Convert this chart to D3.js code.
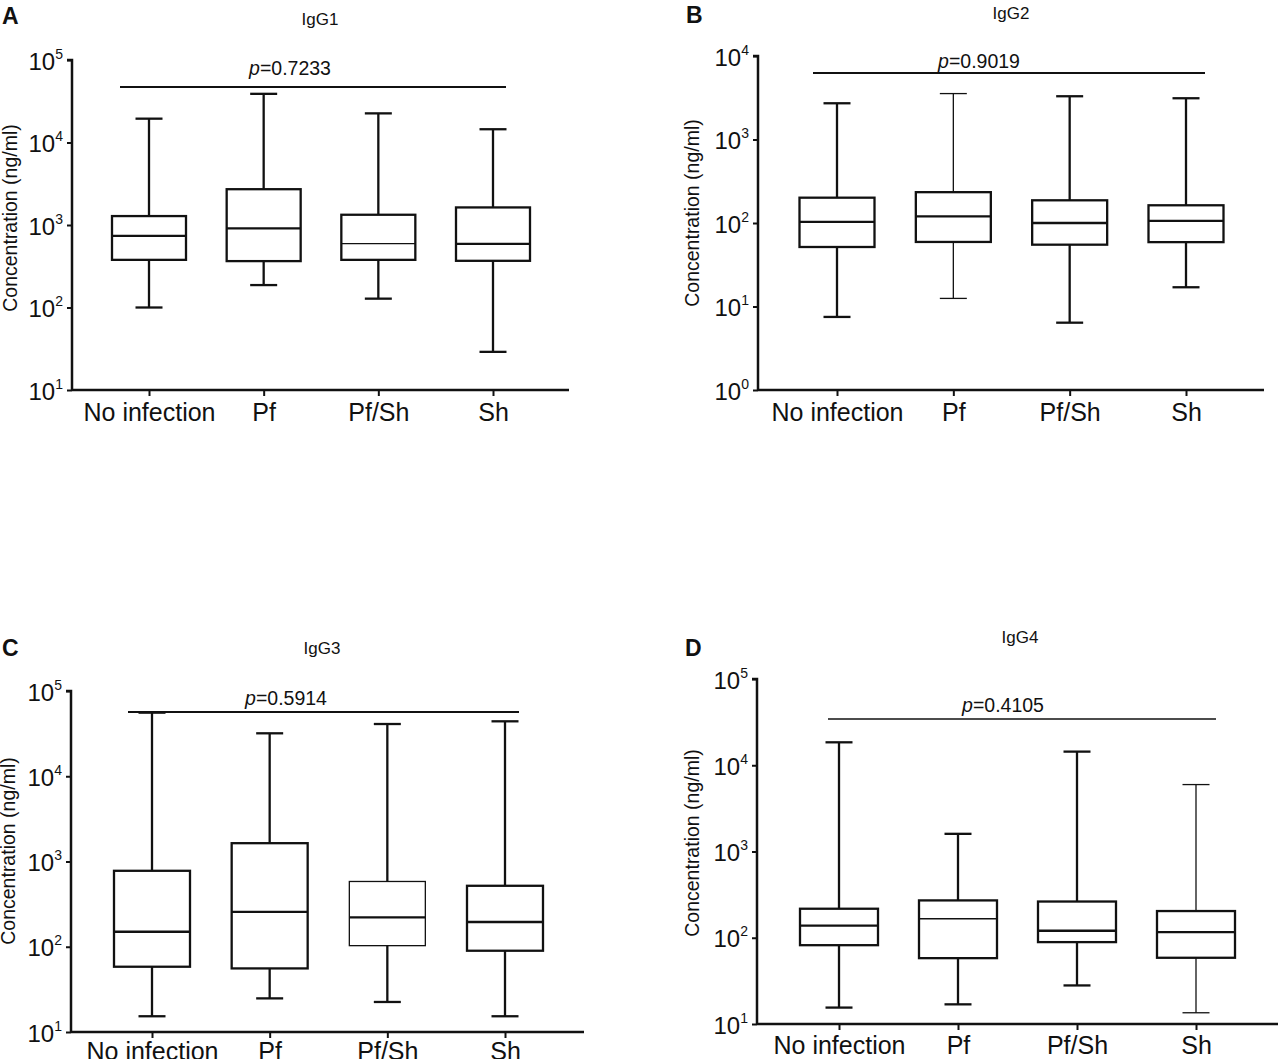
<!DOCTYPE html>
<html><head><meta charset="utf-8">
<script src="https://cdn.jsdelivr.net/npm/d3@7"></script>
<style>body{margin:0;background:#fff}svg{display:block}text{font-family:"Liberation Sans",Arial,sans-serif;fill:#111}</style>
</head><body>
<svg id="c" width="1278" height="1059"></svg>
<script>
// ---------------- data ----------------
const categories = ["No infection", "Pf", "Pf/Sh", "Sh"];
const panelLetters = ["A", "B", "C", "D"];
const panelTitles = ["IgG1", "IgG2", "IgG3", "IgG4"];
const pValues = ["0.7233", "0.9019", "0.5914", "0.4105"];
const yExponents = [[1,2,3,4,5],[0,1,2,3,4],[1,2,3,4,5],[1,2,3,4,5]];

const igg1Min = [100, 187, 128, 29];
const igg1Q1 = [378, 365, 378, 368];
const igg1Median = [737, 912, 596, 590];
const igg1Q3 = [1283, 2716, 1331, 1633];
const igg1Max = [19450, 38900, 22550, 14480];

const igg2Min = [7.5, 12.5, 6.4, 17];
const igg2Q1 = [51.6, 59.3, 55, 59];
const igg2Median = [103, 120, 100, 106];
const igg2Q3 = [201, 234, 187, 163];
const igg2Max = [2716, 3548, 3296, 3119];

const igg3Min = [15.3, 24.8, 22.5, 15.3];
const igg3Q1 = [58.3, 55.7, 103, 89.8];
const igg3Median = [150, 257, 221, 195];
const igg3Q3 = [778, 1640, 583, 519];
const igg3Max = [55700, 31900, 41000, 44100];

const igg4Min = [15.5, 16.9, 28, 13.5];
const igg4Q1 = [82, 58, 89, 58.6];
const igg4Median = [138, 166, 120.5, 116];
const igg4Q3 = [217, 271, 263, 204];
const igg4Max = [18450, 1603, 14390, 5970];

const seriesMin = [igg1Min, igg2Min, igg3Min, igg4Min];
const seriesQ1 = [igg1Q1, igg2Q1, igg3Q1, igg4Q1];
const seriesMed = [igg1Median, igg2Median, igg3Median, igg4Median];
const seriesQ3 = [igg1Q3, igg2Q3, igg3Q3, igg4Q3];
const seriesMax = [igg1Max, igg2Max, igg3Max, igg4Max];

// ---------------- layout & style ----------------
const layouts = [
  {ax:72, yTop:60, yBot:390, xEnd:569, c0:149, c1:493, pY:87, pX0:120, pX1:506, pTx:290, pTy:75, tX:320, tY:25, lX:2, lY:24, ylX:12, ylY:218, boxW:74, pW:2, xPad:6},
  {ax:758, yTop:56, yBot:390, xEnd:1264, c0:837, c1:1186, pY:73, pX0:813, pX1:1205, pTx:979, pTy:68, tX:1011, tY:19, lX:686, lY:23, ylX:694, ylY:213, boxW:75, pW:2, xPad:6},
  {ax:71, yTop:691, yBot:1032, xEnd:584, c0:152, c1:505, pY:712, pX0:128, pX1:519, pTx:286, pTy:705, tX:322, tY:654, lX:2, lY:656, ylX:10, ylY:851, boxW:76, pW:2, xPad:3},
  {ax:757, yTop:679, yBot:1024, xEnd:1278, c0:839, c1:1196, pY:719, pX0:828, pX1:1216, pTx:1003, pTy:712, tX:1020, tY:643, lX:685, lY:656, ylX:694, ylY:843, boxW:78, pW:1.5, xPad:5}
];
// thinner strokes seen in the reference for a few box parts: [panel, category index, part]
const thinParts = [[0,2,"median"],[1,1,"whisker"],[2,2,"box"],[3,1,"median"],[3,3,"whisker"]];
const capW = 27;
const thick = 2.3, thin = 1.3;

const svg = d3.select("#c");

layouts.forEach((L, i) => {
  const g = svg.append("g");
  const exps = yExponents[i];
  const y = d3.scaleLog()
    .domain([Math.pow(10, exps[0]), Math.pow(10, exps[exps.length-1])])
    .range([L.yBot, L.yTop]);
  const x = d3.scalePoint().domain(categories).range([L.c0, L.c1]);
  const sw = (k, part) => thinParts.some(t => t[0] === i && t[1] === k && t[2] === part) ? thin : thick;

  // y axis
  const yAxis = d3.axisLeft(y)
    .tickValues(exps.map(e => Math.pow(10, e)))
    .tickSize(5).tickFormat("");
  const ya = g.append("g").attr("transform", `translate(${L.ax},0)`).call(yAxis);
  ya.select(".domain").attr("stroke", "#111").attr("stroke-width", 2.5).attr("d", `M-5,${L.yTop}H0V${L.yBot}`);
  ya.selectAll(".tick line").attr("stroke", "#111").attr("stroke-width", 2);
  ya.selectAll(".tick").each(function(d, k) {
    const t = d3.select(this).append("text")
      .attr("x", -9).attr("y", 9)
      .attr("text-anchor", "end")
      .style("font-size", "24px");
    t.append("tspan").text("10");
    t.append("tspan").attr("dy", -11).style("font-size", "14px").text(String(exps[k]));
  });

  // x axis
  const xAxis = d3.axisBottom(x).tickSize(6).tickPadding(L.xPad).tickSizeOuter(0);
  const xa = g.append("g").attr("transform", `translate(0,${L.yBot})`).call(xAxis);
  xa.select(".domain").attr("stroke", "#111").attr("stroke-width", 2.5).attr("d", `M${L.ax},0H${L.xEnd}`);
  xa.selectAll(".tick line").attr("stroke", "#111").attr("stroke-width", 2);
  xa.selectAll(".tick text").style("font-size", "25px").attr("fill", "#111").attr("dy", "0.76em");

  // boxes
  const data = categories.map((c, k) => ({
    c, k, min: seriesMin[i][k], q1: seriesQ1[i][k], med: seriesMed[i][k], q3: seriesQ3[i][k], max: seriesMax[i][k]
  }));
  const b = g.selectAll(".bx").data(data).enter().append("g")
    .attr("fill", "none").attr("stroke", "#111");
  b.append("line").attr("x1", d => x(d.c)).attr("x2", d => x(d.c))
    .attr("y1", d => y(d.max)).attr("y2", d => y(d.q3)).attr("stroke-width", d => sw(d.k, "whisker"));
  b.append("line").attr("x1", d => x(d.c)).attr("x2", d => x(d.c))
    .attr("y1", d => y(d.q1)).attr("y2", d => y(d.min)).attr("stroke-width", d => sw(d.k, "whisker"));
  b.append("line").attr("x1", d => x(d.c) - capW/2).attr("x2", d => x(d.c) + capW/2)
    .attr("y1", d => y(d.max)).attr("y2", d => y(d.max)).attr("stroke-width", d => sw(d.k, "whisker"));
  b.append("line").attr("x1", d => x(d.c) - capW/2).attr("x2", d => x(d.c) + capW/2)
    .attr("y1", d => y(d.min)).attr("y2", d => y(d.min)).attr("stroke-width", d => sw(d.k, "whisker"));
  b.append("rect").attr("x", d => x(d.c) - L.boxW/2).attr("width", L.boxW)
    .attr("y", d => y(d.q3)).attr("height", d => y(d.q1) - y(d.q3)).attr("fill", "#fff")
    .attr("stroke-width", d => sw(d.k, "box"));
  b.append("line").attr("x1", d => x(d.c) - L.boxW/2).attr("x2", d => x(d.c) + L.boxW/2)
    .attr("y1", d => y(d.med)).attr("y2", d => y(d.med)).attr("stroke-width", d => sw(d.k, "median"));

  // p-value bar
  g.append("line").attr("x1", L.pX0).attr("x2", L.pX1).attr("y1", L.pY).attr("y2", L.pY)
    .attr("stroke", "#111").attr("stroke-width", L.pW);
  const pt = g.append("text").attr("x", L.pTx).attr("y", L.pTy).attr("text-anchor", "middle").style("font-size", "19.5px");
  pt.append("tspan").style("font-style", "italic").text("p");
  pt.append("tspan").text("=" + pValues[i]);

  // title, letter, y label
  g.append("text").attr("x", L.tX).attr("y", L.tY).attr("text-anchor", "middle").style("font-size", "17px").text(panelTitles[i]);
  g.append("text").attr("x", L.lX).attr("y", L.lY).style("font-size", "23px").style("font-weight", "bold").text(panelLetters[i]);
  g.append("text").attr("transform", `translate(${L.ylX},${L.ylY}) rotate(-90)`)
    .attr("text-anchor", "middle").attr("dominant-baseline", "middle")
    .style("font-size", "19.5px").text("Concentration (ng/ml)");
});
</script>
</body></html>
